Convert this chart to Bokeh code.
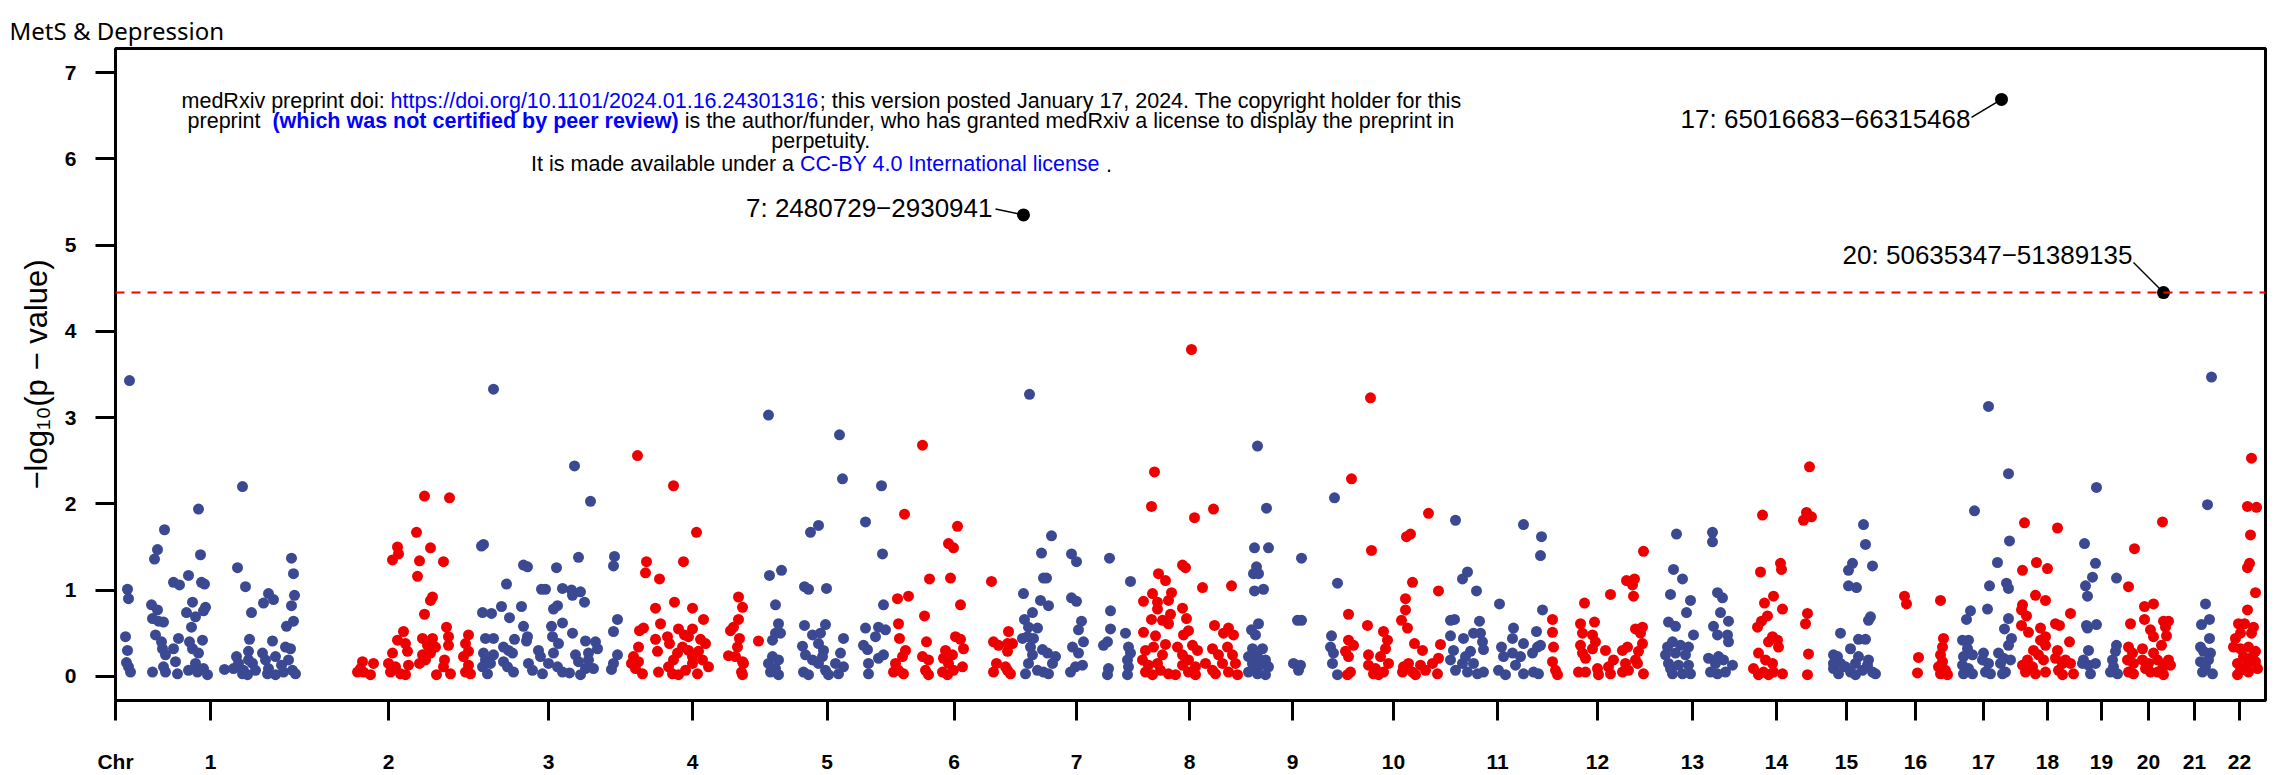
import math
from bokeh.plotting import figure
from bokeh.models import Label, Span, FixedTicker, Range1d, ColumnDataSource
from bokeh.embed import file_html
from bokeh.resources import INLINE

# ---------------- data ----------------
chromosomes = [str(i) for i in range(1, 23)]
# cumulative end position of each chromosome (genome axis units)
chr_end = [185, 361, 505, 649, 774, 903, 1019, 1129, 1225, 1331, 1433,
           1531, 1623, 1699, 1763, 1837, 1899, 1965, 2007, 2059, 2099, 2149]
chr_first = 5

chr1 = [(14,3.43),(12,1.01),(13,0.90),(10,0.46),(12,0.30),(11,0.16),(13,0.11),(15,0.05),
        (49,1.70),(42,1.47),(39,1.36),(36,0.83),(42,0.77),(37,0.67),(43,0.64),(48,0.63),(40,0.48),(46,0.40),(47,0.32),(50,0.25),
        (37,0.05),(48,0.11),(50,0.05),(60,0.17),(62,0.03),
        (58,1.09),(64,1.06),(73,1.17),(83,1.94),(85,1.41),(86,1.09),(89,1.07),(77,0.86),(71,0.74),(80,0.69),(76,0.57),(90,0.80),(88,0.76),
        (63,0.44),(58,0.32),(74,0.40),(77,0.32),(83,0.27),(87,0.42),
        (73,0.07),(80,0.15),(82,0.05),(88,0.09),(92,0.02),
        (109,0.08),(122,1.26),(130,1.04),(136,0.74),(127,2.20),(134,0.43),
        (121,0.23),(123,0.15),(128,0.07),(132,0.02),(133,0.29),(137,0.15),(140,0.07),(127,0.03),(118,0.09),(133,0.19),
        (148,0.85),(153,0.96),(158,0.89),(157,0.41),
        (147,0.27),(150,0.19),(153,0.09),(160,0.23),(160,0.02),(152,0.03),
        (176,1.37),(178,1.19),(179,0.94),(176,0.82),(178,0.64),(171,0.58),
        (170,0.34),(175,0.32),(173,0.19),(177,0.07),(180,0.03),(168,0.05),(166,0.13)]
chr2 = [(309,2.09),(334,2.07),(301,1.67),(282,1.50),(283,1.42),(277,1.35),(315,1.49),(304,1.34),(328,1.33),(302,1.16),(317,0.92),(315,0.88),(309,0.72),(331,0.57),
        (288,0.52),(282,0.42),(290,0.38),(292,0.29),
        (307,0.44),(317,0.44),(312,0.36),(320,0.34),(315,0.27),(307,0.25),(304,0.15),(310,0.19),
        (333,0.46),(333,0.36),
        (353,0.48),(350,0.38),(353,0.29),(348,0.23),(353,0.13),(350,0.05),(355,0.03),
        (329,0.19),(328,0.11),(335,0.03),(321,0.02),
        (247,0.17),(245,0.09),(248,0.05),(255,0.02),(258,0.15),(242,0.05),
        (277,0.27),(273,0.15),(280,0.11),(275,0.05),(285,0.03),(290,0.02),(293,0.13)]
chr3 = [(378,3.33),(368,1.53),(366,1.51),(408,1.29),(412,1.27),(391,1.07),(426,1.01),(386,0.81),(406,0.81),(367,0.74),(376,0.73),(394,0.68),(408,0.58),
        (370,0.44),(378,0.44),(399,0.43),(412,0.46),(411,0.41),(388,0.34),(393,0.30),(397,0.27),
        (368,0.27),(370,0.19),(367,0.11),(372,0.03),(378,0.25),(375,0.15),(388,0.17),(398,0.05),(392,0.11),
        (413,0.15),(417,0.07),(423,0.30),(425,0.23),(427,0.03),
        (459,2.44),(475,2.03),(441,1.26),(463,1.38),(499,1.39),(498,1.28),(430,1.01),(447,1.02),(456,1.00),(457,0.94),(465,0.98),(469,0.86),
        (438,0.78),(442,0.82),(436,0.58),(447,0.62),(437,0.46),(443,0.38),(457,0.50),(502,0.66),(498,0.52),(470,0.41),(480,0.40),(482,0.32),
        (438,0.27),(433,0.15),(442,0.11),(447,0.05),(454,0.04),(460,0.25),(463,0.17),(465,0.02),(470,0.09),(473,0.27),(478,0.09),(473,0.19),
        (502,0.25),(498,0.15),(496,0.08)]
chr4 = [(522,2.56),(558,2.21),(581,1.67),(531,1.33),(530,1.20),(544,1.13),(568,1.33),(540,0.79),(559,0.86),(577,0.79),(545,0.61),(528,0.56),(524,0.53),(588,0.66),
        (563,0.55),(577,0.55),(540,0.43),(552,0.46),(554,0.38),(569,0.48),(573,0.46),(585,0.43),(590,0.38),
        (523,0.34),(518,0.23),(516,0.15),(520,0.09),(527,0.03),(542,0.29),(543,0.05),(558,0.19),(562,0.27),(567,0.34),(573,0.30),(577,0.23),(583,0.29),(587,0.19),(593,0.11),(557,0.03),(563,0.02),(570,0.07),(577,0.15),(582,0.03),(553,0.11),(523,0.17),
        (623,0.92),(627,0.80),(623,0.66),(618,0.57),(615,0.53),(624,0.44),(622,0.34),(613,0.24),(620,0.23),(627,0.17),(628,0.15),(626,0.05),(627,0.02),(643,0.41)]
chr5 = [(653,3.03),(724,2.80),(727,2.29),(766,2.21),(750,1.79),(767,1.42),(695,1.67),(703,1.75),(654,1.17),(666,1.23),(660,0.83),(689,1.04),(693,1.01),(711,1.02),(768,0.83),
        (663,0.61),(660,0.50),(665,0.50),(657,0.42),(689,0.59),(697,0.48),(705,0.50),(710,0.60),(728,0.44),(687,0.35),(703,0.38),(708,0.30),
        (750,0.56),(763,0.57),(770,0.54),(760,0.46),(748,0.36),(752,0.31),(768,0.25),(763,0.21),(753,0.15),(753,0.03),
        (657,0.23),(653,0.15),(663,0.19),(655,0.05),(663,0.02),(660,0.09),
        (690,0.25),(697,0.19),(688,0.05),(693,0.02),(703,0.15),(710,0.07),(713,0.02),(707,0.23),(720,0.15),(723,0.03),(728,0.11),(725,0.27)]
chr6 = [(807,2.68),(789,1.88),(842,1.74),(833,1.54),(838,1.49),(814,1.13),(835,1.14),(782,0.90),(793,0.93),(845,0.83),(809,0.70),(783,0.61),
        (784,0.44),(790,0.30),(787,0.23),(780,0.15),(783,0.07),(788,0.03),(778,0.05),
        (811,0.40),(807,0.23),(813,0.19),(810,0.07),(813,0.02),
        (840,0.46),(845,0.43),(848,0.32),(830,0.30),(837,0.25),(828,0.21),(833,0.15),(827,0.05),(832,0.02),(838,0.07),(847,0.11),
        (876,1.10),(893,0.52),(878,0.40),(883,0.36),(892,0.38),(897,0.38),(892,0.29),(881,0.15),(878,0.05),(890,0.11),(895,0.03),(892,0.07)]
chr7 = [(914,3.27),(936,1.63),(926,1.43),(956,1.42),(961,1.33),(994,1.37),(928,1.14),(931,1.14),(908,0.96),(925,0.88),(933,0.82),(956,0.91),(961,0.87),(1015,1.10),
        (917,0.74),(909,0.66),(995,0.76),(966,0.64),(963,0.54),(995,0.55),(1010,0.50),
        (913,0.57),(922,0.56),(912,0.46),(907,0.44),(918,0.44),(915,0.34),
        (927,0.31),(932,0.27),(940,0.23),(937,0.15),(917,0.25),(913,0.15),(910,0.03),(922,0.07),(928,0.05),(933,0.03),
        (968,0.40),(957,0.34),(963,0.27),(960,0.11),(955,0.05),(967,0.13),
        (992,0.40),(988,0.36),(993,0.09),(992,0.02),
        (1013,0.34),(1015,0.27),(1012,0.19),(1013,0.11),(1012,0.02)]
chr8 = [(1076,3.79),(1039,2.37),(1036,1.97),(1098,1.94),(1079,1.84),(1067,1.29),(1070,1.26),(1043,1.19),(1050,1.11),(1087,1.03),(1116,1.05),(1037,0.96),(1056,0.97),
        (1028,0.87),(1042,0.86),(1053,0.88),(1042,0.78),(1055,0.72),(1067,0.79),(1036,0.66),(1047,0.65),(1053,0.61),(1071,0.67),
        (1028,0.51),(1040,0.47),(1050,0.37),(1068,0.48),(1073,0.53),(1099,0.59),(1113,0.56),(1108,0.50),(1118,0.48),
        (1030,0.30),(1038,0.34),(1047,0.25),(1027,0.19),(1033,0.13),(1042,0.15),(1030,0.05),(1037,0.02),(1045,0.07),(1053,0.03),(1060,0.02),
        (1062,0.34),(1067,0.25),(1077,0.36),(1082,0.30),(1073,0.19),(1067,0.13),(1080,0.11),(1090,0.15),(1097,0.32),(1103,0.25),(1097,0.07),(1107,0.15),(1112,0.34),(1117,0.25),(1120,0.15),(1113,0.05),(1122,0.02),(1100,0.03),(1080,0.02),(1073,0.05)]
chr9 = [(1142,2.67),(1151,1.95),(1139,1.49),(1153,1.49),(1141,1.27),(1138,1.19),(1143,1.19),(1139,0.99),(1148,1.01),(1143,0.61),(1136,0.54),(1140,0.48),
        (1186,1.37),(1182,0.65),(1186,0.65),(1178,0.15),(1185,0.13),(1183,0.07),
        (1137,0.32),(1147,0.32),(1133,0.23),(1142,0.23),(1150,0.19),(1137,0.15),(1145,0.13),(1153,0.11),(1133,0.05),(1142,0.03),(1150,0.02),(1138,0.09),
        (1219,2.07),(1222,1.08),(1216,0.47),(1215,0.34),(1218,0.27),(1217,0.15),(1222,0.02)]
chr10 = [(1255,3.23),(1236,2.29),(1256,1.46),(1233,0.72),(1252,0.59),(1286,0.65),
         (1268,0.52),(1272,0.42),(1270,0.32),(1265,0.23),(1273,0.15),(1268,0.05),(1260,0.09),(1253,0.13),(1258,0.03),(1263,0.02),
         (1233,0.42),(1238,0.36),(1230,0.29),(1233,0.23),(1235,0.05),(1232,0.02),(1253,0.25),(1288,0.11),(1287,0.05),
         (1313,1.89),(1295,1.65),(1291,1.62),(1297,1.09),(1323,0.99),(1290,0.90),(1290,0.77),(1292,0.56),(1299,0.38),(1307,0.30),(1325,0.37),
         (1293,0.15),(1297,0.05),(1305,0.13),(1310,0.07),(1317,0.15),(1323,0.21),(1322,0.03),(1300,0.02)]
chr11 = [(1340,1.81),(1408,1.76),(1426,1.62),(1425,1.40),(1352,1.21),(1347,1.13),(1361,0.99),(1384,0.84),(1427,0.77),(1335,0.65),(1339,0.66),(1364,0.64),
         (1335,0.47),(1348,0.44),(1358,0.50),(1365,0.50),(1398,0.56),(1421,0.52),(1367,0.40),(1368,0.31),
         (1338,0.30),(1335,0.19),(1340,0.07),(1347,0.15),(1350,0.23),(1352,0.05),(1355,0.29),(1358,0.15),(1362,0.03),(1368,0.05),
         (1386,0.34),(1397,0.44),(1408,0.38),(1388,0.23),(1397,0.27),(1405,0.23),(1383,0.07),(1390,0.02),(1400,0.13),(1408,0.03),(1417,0.27),(1422,0.34),(1425,0.36),(1418,0.05),(1423,0.03)]
chr12 = [(1437,0.66),(1437,0.51),(1438,0.34),(1437,0.17),(1440,0.07),(1442,0.02),
         (1528,1.45),(1469,0.85),(1495,0.95),(1511,1.11),(1519,1.13),(1517,1.06),(1518,0.93),(1465,0.61),(1479,0.63),
         (1467,0.50),(1477,0.48),(1480,0.40),(1465,0.36),(1477,0.32),(1467,0.27),(1470,0.21),(1490,0.30),
         (1463,0.05),(1470,0.05),(1482,0.09),(1483,0.02),(1493,0.11),(1498,0.19),(1495,0.03),(1507,0.30),(1512,0.34),(1510,0.15),(1513,0.07),(1507,0.05),(1520,0.19),(1523,0.29),(1527,0.38),(1525,0.50),(1520,0.55),(1527,0.57),(1528,0.03),(1522,0.15)]
chr13 = [(1561,1.65),(1597,1.67),(1597,1.56),(1558,1.24),(1567,1.13),(1555,0.95),(1575,0.88),(1571,0.74),(1602,0.97),(1607,0.91),(1605,0.74),(1613,0.64),(1553,0.63),(1560,0.58),(1578,0.48),(1598,0.58),(1602,0.48),(1612,0.48),(1613,0.40),
         (1552,0.34),(1557,0.40),(1565,0.36),(1573,0.34),(1550,0.25),(1560,0.27),(1570,0.25),(1553,0.15),(1563,0.13),(1573,0.13),(1557,0.03),(1567,0.03),(1575,0.03),(1555,0.09),
         (1593,0.21),(1600,0.15),(1608,0.19),(1617,0.13),(1595,0.05),(1602,0.03),(1610,0.05),(1603,0.23)]
chr14 = [(1647,1.87),(1645,1.21),(1665,1.31),(1666,1.24),(1658,0.93),(1649,0.85),(1667,0.78),(1652,0.70),(1646,0.64),(1642,0.57),
         (1657,0.46),(1662,0.42),(1663,0.34),(1653,0.40),
         (1643,0.27),(1650,0.19),(1657,0.15),(1638,0.09),(1648,0.05),(1658,0.05),(1667,0.03),(1643,0.02),(1653,0.02),
         (1694,2.43),(1691,1.90),(1696,1.85),(1688,1.81),(1692,0.73),(1690,0.61),(1693,0.26),(1692,0.02)]
chr15 = [(1718,0.25),(1718,0.15),(1718,0.09),
         (1748,1.76),(1750,1.53),(1737,1.31),(1733,1.23),(1757,1.28),(1733,1.05),(1741,1.03),(1755,0.69),(1753,0.65),(1725,0.50),(1735,0.32),(1743,0.43),(1750,0.43),
         (1722,0.23),(1725,0.15),(1730,0.11),(1735,0.05),(1740,0.15),(1743,0.23),(1747,0.07),(1752,0.13),(1757,0.05),(1760,0.03),(1723,0.03),(1740,0.02),(1753,0.19)]
chr16 = [(1789,0.93),(1791,0.84),(1825,0.88),(1803,0.22),(1802,0.04),
         (1828,0.44),(1827,0.34),(1825,0.25),(1827,0.17),(1823,0.11),(1830,0.07),(1825,0.03),(1832,0.02)]
chr17 = [(1873,3.13),(1893,2.35),(1859,1.92),(1894,1.57),(1882,1.32),(1874,1.05),(1891,1.08),(1893,1.02),(1872,0.78),(1855,0.76),(1851,0.66),(1893,0.67),(1889,0.55),(1896,0.44),(1893,0.36),
         (1847,0.42),(1853,0.42),(1852,0.32),(1848,0.23),(1857,0.25),(1847,0.13),(1853,0.09),(1848,0.03),(1857,0.03),(1868,0.27),(1867,0.19),(1873,0.15),(1870,0.05),(1875,0.03),(1883,0.27),(1888,0.21),(1885,0.15),(1890,0.05),(1887,0.03),(1895,0.19)]
chr18 = [(1909,1.78),(1942,1.72),(1921,1.32),(1932,1.25),(1907,1.23),(1920,0.94),(1930,0.88),(1907,0.83),(1906,0.77),(1911,0.70),(1955,0.73),(1906,0.59),(1913,0.51),(1940,0.61),(1944,0.59),(1925,0.56),(1930,0.46),(1925,0.42),(1930,0.36),(1954,0.40),
         (1918,0.30),(1923,0.25),(1912,0.19),(1907,0.13),(1917,0.11),(1910,0.05),(1920,0.03),(1928,0.19),(1930,0.05),(1942,0.30),(1940,0.21),(1947,0.15),(1943,0.07),(1950,0.19),(1955,0.15),(1958,0.03),(1947,0.02)]
chr19 = [(1981,2.19),(1969,1.54),(1980,1.31),(1977,1.15),(1970,1.05),(1972,0.93),(2001,1.14),(1971,0.59),(1972,0.56),(1981,0.60),
         (1973,0.30),(1968,0.19),(1973,0.13),(1980,0.15),(1975,0.03),(1967,0.15),
         (2001,0.36),(2000,0.29),(1997,0.19),(1998,0.11),(1995,0.05),(2002,0.03)]
chr20 = [(2047,1.79),(2019,1.48),(2013,1.04),(2029,0.81),(2038,0.84),(2015,0.61),(2029,0.66),(2035,0.54),(2038,0.46),(2048,0.64),(2053,0.64),(2050,0.57),(2051,0.47),(2046,0.36),
         (2013,0.34),(2017,0.27),(2012,0.19),(2018,0.15),(2013,0.05),(2018,0.03),(2027,0.32),(2027,0.19),(2030,0.09),(2035,0.05),(2038,0.27),(2042,0.19),(2047,0.09),(2050,0.15),(2053,0.19),(2055,0.13),(2048,0.02),(2042,0.05),(2033,0.15)]
chr21 = [(2096,3.47),(2092,1.99),(2090,0.84),(2086,0.60),(2094,0.66),(2094,0.44),(2085,0.34),(2088,0.29),(2095,0.27),(2085,0.17),(2093,0.19),(2087,0.05),(2097,0.03),(2090,0.11)]
chr22 = [(2136,2.53),(2132,1.97),(2141,1.96),(2135,1.64),(2134,1.31),(2132,1.26),(2140,0.97),(2132,0.77),(2123,0.61),(2129,0.61),(2138,0.57),(2136,0.50),
         (2120,0.44),(2125,0.50),(2118,0.34),(2125,0.32),(2133,0.34),(2140,0.29),(2128,0.23),(2137,0.23),(2122,0.15),(2132,0.13),(2140,0.17),(2125,0.07),(2133,0.05),(2122,0.02),(2142,0.09)]

chr_points = [chr1, chr2, chr3, chr4, chr5, chr6, chr7, chr8, chr9, chr10, chr11,
              chr12, chr13, chr14, chr15, chr16, chr17, chr18, chr19, chr20, chr21, chr22]

# significant / annotated loci
sig_pos = [908, 1886, 2048]
sig_logp = [5.35, 6.69, 4.45]
sig_labels = ["7: 2480729\u22122930941", "17: 65016683\u221266315468", "20: 50635347\u221251389135"]
threshold_logp = 4.45

# ---------------- style ----------------
BLUE = "#3B4992"
RED = "#EE0000"
FONT = "Liberation Sans"
X0, X1 = 0, 2150
Y0, Y1 = -0.28, 7.28
FW, FH = 2150, 652
XU = (X1 - X0) / FW
YU = (Y1 - Y0) / FH

REG = dict(zip("abcdefghijklmnopqrstuvwxyz",
               [556,556,500,556,556,278,556,556,222,222,500,222,833,556,556,556,556,333,500,278,556,500,722,500,500,500]))
REG.update(dict(zip("ABCDEFGHIJKLMNOPQRSTUVWXYZ",
               [667,667,722,722,667,611,778,722,278,500,667,556,833,722,778,667,778,722,667,611,722,667,944,667,667,611])))
REG.update({d: 556 for d in "0123456789"})
REG.update({" ": 278, ".": 278, ",": 278, ":": 278, ";": 278, "/": 278, "(": 333, ")": 333, "-": 333, "\u2212": 584})
BOLD = dict(zip("abcdefghijklmnopqrstuvwxyz",
                [556,611,556,611,556,333,611,611,278,278,556,278,889,611,611,611,611,389,556,333,611,556,778,556,556,500]))
BOLD.update({" ": 278, "(": 333, ")": 333})


def tw(s, size, bold=False):
    t = BOLD if bold else REG
    return sum(t.get(c, 556) for c in s) * size / 1000.0


p = figure(width=2279, height=775, x_range=Range1d(X0, X1), y_range=Range1d(Y0, Y1),
           output_backend="svg", toolbar_location=None,
           min_border_left=115, min_border_right=14, min_border_top=48, min_border_bottom=75)
p.title.text = "MetS & Depression"
p.title.align = "left"
p.title.offset = -106
p.title.standoff = 4
p.title.text_font = "Noto Sans"
p.title.text_font_size = "24px"
p.title.text_font_style = "normal"
p.title.text_color = "black"
p.grid.visible = False
p.background_fill_color = "white"
p.border_fill_color = "white"
p.outline_line_color = "black"
p.outline_line_width = 3

# points
xs, ys, cs = [], [], []
for i, pts in enumerate(chr_points):
    col = BLUE if i % 2 == 0 else RED
    for (x, y) in pts:
        xs.append(x)
        ys.append(y)
        cs.append(col)
p.scatter(x="x", y="y", color="c", size=11, line_color=None,
          source=ColumnDataSource(dict(x=xs, y=ys, c=cs)))

# threshold
p.add_layout(Span(location=threshold_logp, dimension="width", line_color="#FF0000",
                  line_dash="9 7", line_width=2))

# annotated loci
lab_off = [(-31, 7, -28, 6), (-31, -20, -30, -18), (-31, 38, -30, 30)]
p.segment(x0=[sig_pos[i] + lab_off[i][2] * XU for i in range(3)],
          y0=[sig_logp[i] + lab_off[i][3] * YU for i in range(3)],
          x1=sig_pos, y1=sig_logp, line_color="black", line_width=1.5)
p.scatter(x=sig_pos, y=sig_logp, size=13, color="black", line_color=None)
for i in range(3):
    p.add_layout(Label(x=sig_pos[i], y=sig_logp[i], x_offset=lab_off[i][0], y_offset=lab_off[i][1],
                       text=sig_labels[i], text_align="right", text_baseline="middle",
                       text_font=FONT, text_font_size="26px", text_color="black"))

# axes
centers = []
start = chr_first
for e in chr_end:
    centers.append((start + e) / 2.0)
    start = e
xa = p.xaxis[0]
xa.ticker = FixedTicker(ticks=[float(X0)] + centers)
ov = {float(X0): "Chr"}
for c, name in zip(centers, chromosomes):
    ov[c] = name
xa.major_label_overrides = ov
ya = p.yaxis[0]
ya.ticker = FixedTicker(ticks=[0, 1, 2, 3, 4, 5, 6, 7])
for ax in (xa, ya):
    ax.axis_line_color = None
    ax.major_tick_in = 0
    ax.major_tick_out = 20
    ax.major_tick_line_width = 3
    ax.major_tick_line_color = "black"
    ax.minor_tick_line_color = None
    ax.major_label_text_font = FONT
    ax.major_label_text_font_size = "21px"
    ax.major_label_text_font_style = "bold"
    ax.major_label_text_color = "black"
xa.major_label_standoff = 29
ya.major_label_standoff = 19

ya.axis_label = "\u2212log\u2081\u2080(p \u2212 value)"
ya.axis_label_text_font = FONT
ya.axis_label_text_font_size = "31px"
ya.axis_label_text_font_style = "normal"
ya.axis_label_text_color = "black"
ya.axis_label_standoff = 8

# medRxiv watermark
WF = 21.5
wm_lines = [
    [("medRxiv preprint doi: ", "black", False),
     ("https://doi.org/10.1101/2024.01.16.24301316", "#0000FF", False),
     ("; this version posted January 17, 2024. The copyright holder for this", "black", False)],
    [("preprint  ", "black", False),
     ("(which was not certified by peer review)", "#0000FF", True),
     (" is the author/funder, who has granted medRxiv a license to display the preprint in", "black", False)],
    [("perpetuity.", "black", False)],
    [("It is made available under a ", "black", False),
     ("CC-BY 4.0 International license", "#0000FF", False),
     (" .", "black", False)],
]
wm_y = [6.67, 6.44, 6.21, 5.94]
wm_cx = 706
for line, yv in zip(wm_lines, wm_y):
    total = sum(tw(s, WF, b) for s, c, b in line)
    cum = -total / 2.0
    for s, c, b in line:
        lead = len(s) - len(s.lstrip(" "))
        p.add_layout(Label(x=wm_cx, y=yv, x_offset=cum + lead * 0.278 * WF, text=s.strip(),
                           text_align="left", text_baseline="middle", text_font=FONT,
                           text_font_size=f"{WF}px", text_font_style="bold" if b else "normal",
                           text_color=c))
        cum += tw(s, WF, b)

open("out.html", "w").write(file_html(p, INLINE))
